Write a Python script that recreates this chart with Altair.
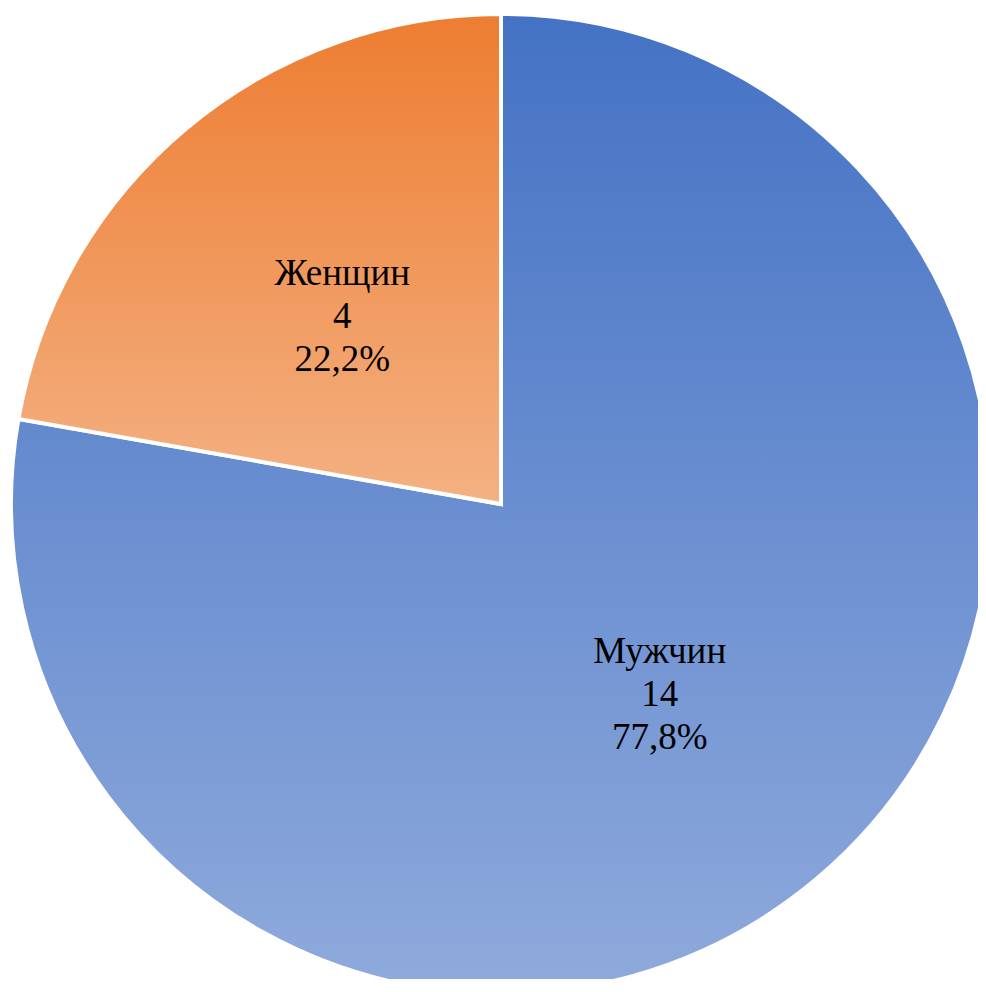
import altair as alt
import pandas as pd

categories = ["Мужчин", "Женщин"]
counts = [14, 4]
percents = ["77,8%", "22,2%"]

df = pd.DataFrame({
    "cat": categories,
    "count": counts,
    "label": [f"{c}\n{n}\n{p}" for c, n, p in zip(categories, counts, percents)],
})

blue_grad = {
    "gradient": "linear", "x1": 0, "y1": 0, "x2": 0, "y2": 1,
    "stops": [{"offset": 0, "color": "#4472C4"}, {"offset": 1, "color": "#8FAADC"}],
}
orange_grad = {
    "gradient": "linear", "x1": 0, "y1": 0, "x2": 0, "y2": 1,
    "stops": [{"offset": 0, "color": "#ED7D31"}, {"offset": 1, "color": "#F4B183"}],
}

CX, CY, R = 493, 496, 490

base = alt.Chart(df).encode(
    theta=alt.Theta("count:Q", stack=True),
    order=alt.Order("count:Q", sort="descending"),
    x=alt.value(CX),
    y=alt.value(CY),
)

arcs = base.mark_arc(stroke="white", strokeWidth=4, radius=R).encode(
    fill=alt.condition(alt.datum.cat == "Мужчин", alt.value(blue_grad), alt.value(orange_grad))
)

labels = base.mark_text(
    radius=247, dy=-41, font="Liberation Serif", fontSize=37, lineHeight=43,
    lineBreak="\n", align="center", baseline="middle", color="black",
).encode(text="label:N")

chart = (arcs + labels).properties(
    width=970, height=971, padding=0,
    autosize=alt.AutoSizeParams(type="none"),
).configure_view(stroke=None)

chart.save("out.html", embed_options={"renderer": "svg", "actions": False})
